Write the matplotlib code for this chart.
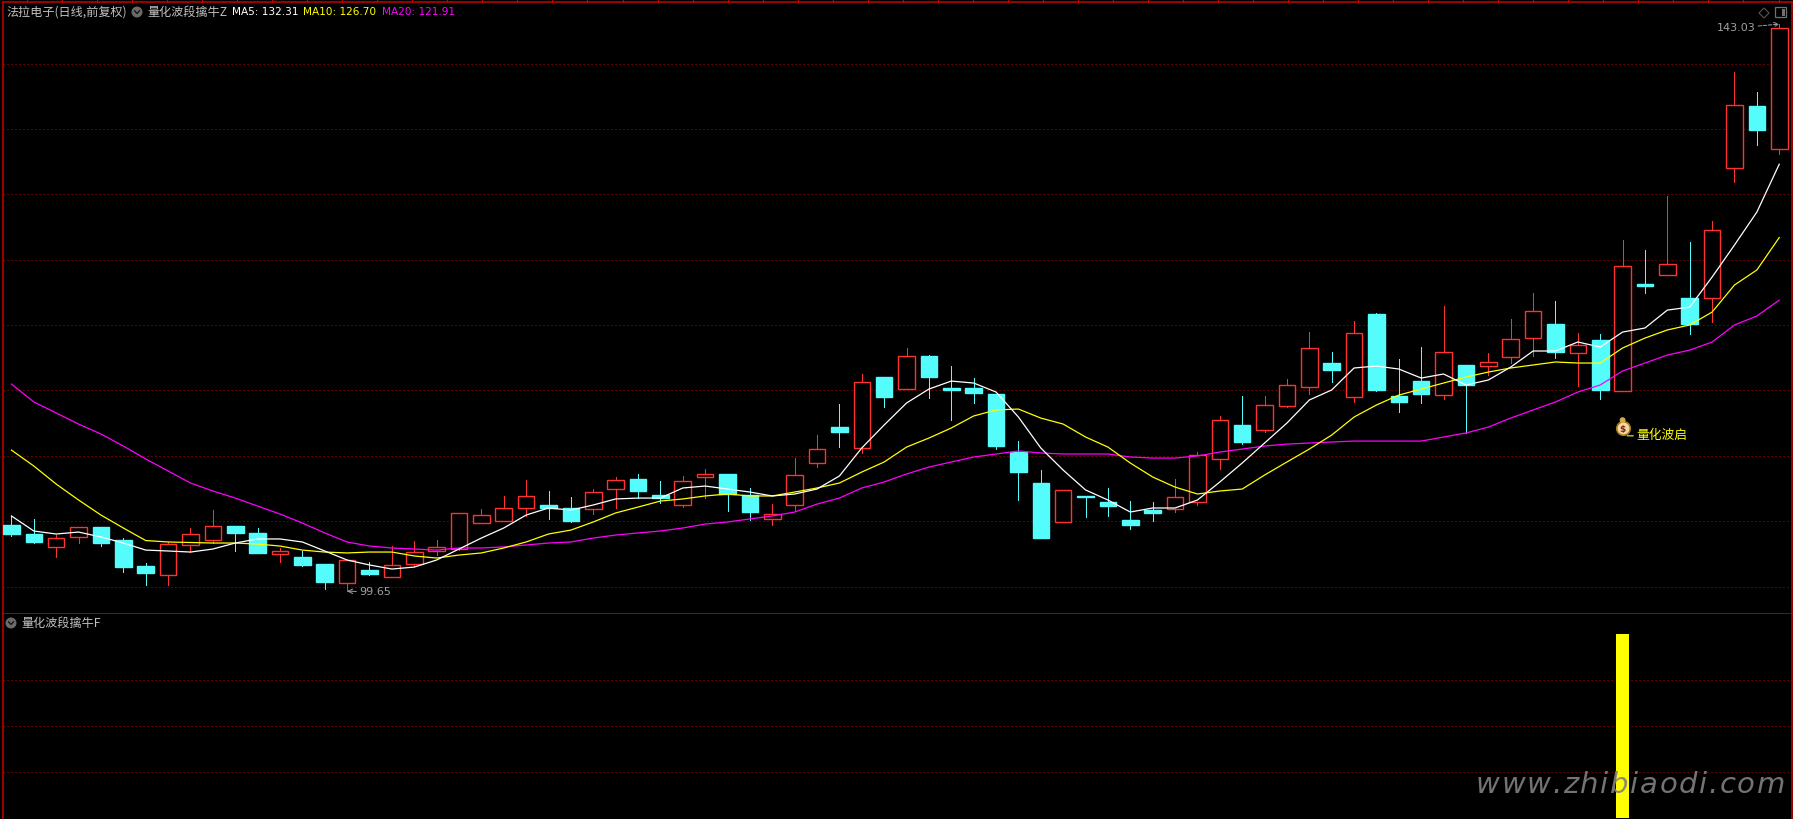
import matplotlib
matplotlib.use("Agg")
from matplotlib import pyplot as plt
from matplotlib.patches import Circle, FancyBboxPatch, Polygon, Rectangle

plt.rcParams['font.family'] = ['Noto Sans CJK SC', 'DejaVu Sans']

open_price = [104.71, 104.02, 103.05, 103.81, 104.55, 103.56, 101.57, 100.91, 103.20, 103.58,
              104.63, 104.10, 102.51, 102.26, 101.72, 100.29, 101.26, 100.75, 101.70, 102.70,
              102.87, 104.88, 104.99, 105.99, 106.24, 105.99, 105.95, 107.48, 108.23, 107.00,
              106.26, 108.40, 108.61, 107.00, 105.19, 106.26, 109.47, 112.20, 110.62, 116.03,
              115.13, 117.64, 115.19, 115.19, 114.73, 110.29, 107.92, 104.96, 106.93, 106.47,
              105.09, 105.85, 105.95, 106.49, 109.78, 112.36, 112.00, 113.83, 115.29, 117.10,
              114.52, 120.85, 114.58, 115.72, 114.65, 116.95, 116.89, 117.58, 119.04, 120.08,
              117.89, 118.86, 114.98, 123.14, 123.86, 122.07, 122.10, 132.04, 136.76, 133.49]
close_price = [104.02, 103.41, 103.69, 104.53, 103.33, 101.49, 101.04, 103.23, 104.00, 104.61,
               104.10, 102.57, 102.72, 101.65, 100.35, 102.01, 100.96, 101.62, 102.62, 103.00,
               105.60, 105.45, 105.99, 106.90, 105.99, 105.01, 107.21, 108.13, 107.31, 106.80,
               108.05, 108.59, 107.08, 105.70, 105.53, 108.51, 110.50, 111.82, 115.62, 114.50,
               117.61, 116.03, 115.03, 114.81, 110.75, 108.76, 103.71, 107.36, 106.85, 106.16,
               104.71, 105.63, 106.83, 110.04, 112.72, 111.06, 113.86, 115.39, 118.23, 116.56,
               119.37, 115.03, 114.12, 114.73, 117.92, 115.42, 117.15, 118.91, 121.06, 117.94,
               118.45, 115.03, 124.50, 122.99, 124.65, 120.08, 127.25, 136.81, 134.92, 142.71]
high_price = [105.40, 105.17, 103.94, 104.53, 104.55, 103.71, 101.80, 103.41, 104.48, 105.85,
              104.63, 104.48, 102.95, 102.72, 101.72, 102.01, 101.88, 103.10, 103.48, 103.56,
              105.60, 105.93, 106.90, 108.15, 107.31, 106.85, 107.46, 108.38, 108.61, 108.07,
              108.46, 108.99, 108.61, 107.54, 106.31, 109.83, 111.59, 113.96, 116.26, 116.03,
              118.25, 117.71, 116.87, 115.95, 114.73, 111.13, 108.91, 107.36, 106.93, 107.54,
              106.54, 106.47, 108.23, 110.29, 113.05, 114.58, 114.58, 115.88, 119.47, 117.94,
              120.31, 120.93, 117.41, 118.32, 121.46, 116.95, 117.87, 120.47, 122.46, 121.84,
              119.40, 119.32, 126.51, 125.74, 129.88, 126.36, 127.96, 139.36, 137.83, 143.03]
low_price = [103.87, 103.33, 102.26, 103.33, 103.10, 101.11, 100.12, 100.12, 102.64, 103.33,
             102.72, 102.57, 101.88, 101.57, 99.81, 99.65, 100.88, 100.75, 101.57, 102.41,
             102.79, 104.88, 104.99, 105.40, 105.17, 104.96, 105.55, 106.03, 106.77, 106.39,
             106.11, 106.80, 105.78, 105.09, 104.71, 105.85, 109.14, 110.67, 110.24, 113.73,
             115.13, 114.42, 112.74, 114.04, 110.52, 106.62, 103.71, 104.96, 105.32, 105.40,
             104.40, 105.01, 105.72, 106.24, 108.99, 110.90, 111.84, 113.76, 114.73, 115.65,
             114.12, 114.96, 113.35, 114.04, 114.35, 111.75, 116.18, 117.10, 117.64, 117.48,
             115.34, 114.35, 114.98, 122.46, 123.86, 119.32, 120.24, 130.97, 133.78, 133.11]

ma5 = [105.40, 104.25, 104.02, 104.17, 103.79, 103.33, 102.79, 102.72, 102.64, 102.87,
       103.33, 103.64, 103.64, 103.41, 102.72, 102.03, 101.65, 101.34, 101.49, 102.03,
       102.87, 103.71, 104.48, 105.47, 106.01, 105.85, 106.24, 106.70, 106.77, 106.77,
       107.54, 107.69, 107.46, 107.23, 106.93, 107.08, 107.46, 108.46, 110.60, 112.36,
       114.04, 115.11, 115.72, 115.57, 114.88, 112.97, 110.60, 108.91, 107.39, 106.62,
       105.70, 106.01, 106.01, 106.62, 108.00, 109.45, 110.98, 112.51, 114.27, 115.04,
       116.72, 116.87, 116.64, 115.95, 116.26, 115.42, 115.80, 116.79, 118.02, 118.02,
       118.71, 118.32, 119.47, 119.78, 121.15, 121.38, 123.68, 126.13, 128.65, 132.31]
ma10 = [110.44, 109.22, 107.84, 106.62, 105.47, 104.48, 103.52, 103.41, 103.37, 103.33,
        103.33, 103.25, 103.10, 102.79, 102.64, 102.57, 102.64, 102.64, 102.34, 102.18,
        102.41, 102.57, 102.95, 103.41, 104.02, 104.32, 104.94, 105.63, 106.08, 106.54,
        106.70, 106.93, 107.08, 106.93, 106.93, 107.23, 107.54, 107.92, 108.76, 109.53,
        110.67, 111.36, 112.13, 113.05, 113.51, 113.58, 112.89, 112.43, 111.44, 110.67,
        109.45, 108.38, 107.61, 107.08, 107.31, 107.46, 108.53, 109.53, 110.52, 111.59,
        112.97, 113.89, 114.65, 115.11, 115.57, 116.03, 116.41, 116.72, 116.95, 117.18,
        117.10, 117.10, 118.25, 119.01, 119.63, 120.01, 121.00, 123.07, 124.22, 126.70]
ma20 = [115.49, 114.12, 113.28, 112.43, 111.67, 110.75, 109.76, 108.84, 107.92, 107.31,
        106.77, 106.16, 105.55, 104.86, 104.10, 103.41, 103.10, 102.95, 102.87, 102.79,
        102.95, 102.95, 103.03, 103.18, 103.33, 103.41, 103.71, 103.94, 104.10, 104.25,
        104.48, 104.78, 104.94, 105.17, 105.40, 105.70, 106.31, 106.77, 107.54, 108.00,
        108.61, 109.14, 109.53, 109.91, 110.14, 110.37, 110.22, 110.14, 110.14, 110.14,
        109.91, 109.83, 109.83, 109.99, 110.29, 110.52, 110.75, 110.90, 110.98, 111.06,
        111.13, 111.13, 111.13, 111.13, 111.44, 111.75, 112.20, 112.89, 113.51, 114.12,
        114.88, 115.42, 116.49, 117.10, 117.71, 118.09, 118.71, 120.01, 120.70, 121.91]

grid_prices = [100, 105, 110, 115, 120, 125, 130, 135, 140]
signal_day = 72
signal_value = 1.0
signal_grid = [0.25, 0.5, 0.75]

W, H = 1793, 819
RED = "#ff3232"
CYAN = "#54fcfc"
BORDER = "#c80000"
GRID = "#c00000"
GRAY = "#c0c0c0"


def px(x, y):
    return x / W, 1 - y / H


fig = plt.figure(figsize=(W / 100, H / 100), dpi=100, facecolor="black")
ax = fig.add_axes([2.5 / W, 1 - 614 / H, 1789.5 / W, 612 / H], facecolor="black")
ax2 = fig.add_axes([2.5 / W, 0, 1789.5 / W, 205 / H], facecolor="black")

for a in (ax, ax2):
    a.set_xticks([])
    a.set_yticks([])
    a.set_xlim(-0.4, 79.57)
    for s in a.spines.values():
        s.set_color(BORDER)
        s.set_linewidth(1.1)
ax2.spines["bottom"].set_visible(False)
ax2.spines["top"].set_visible(False)

ax.set_ylim(97.9, 144.72)
ax2.set_ylim(-0.005, 1.109)

for g in grid_prices:
    ax.axhline(g, color=GRID, lw=0.72, ls=(0, (1, 3)), zorder=1)
for g in signal_grid:
    ax2.axhline(g, color=GRID, lw=0.72, ls=(0, (1, 3)), zorder=1)

for i in range(len(open_price)):
    up = close_price[i] > open_price[i]
    col = RED if up else CYAN
    bottom = min(open_price[i], close_price[i])
    height = abs(close_price[i] - open_price[i])
    ax.vlines(i, low_price[i], high_price[i], color=col, lw=0.72, zorder=2, antialiased=False)
    ax.bar(i, height, bottom=bottom, width=0.74,
           facecolor="black" if up else col, edgecolor=col, linewidth=1.0, zorder=3)

days = list(range(len(ma5)))
ax.plot(days, ma20, color="#ff00ff", lw=0.9, zorder=4)
ax.plot(days, ma10, color="#ffff00", lw=0.9, zorder=5)
ax.plot(days, ma5, color="white", lw=0.9, zorder=6)

# the grid stops a little before the signal bar
ax2.bar(signal_day, signal_value, width=0.74, color="black", zorder=2)
ax2.bar(signal_day, signal_value, width=0.58, color="#ffff00", zorder=3)

# high and low labels
ax.annotate("99.65", xy=(15, min(low_price)), xytext=(12, -1), textcoords="offset pixels",
            color="#a0a0a0", fontsize=8, va="center", ha="left", family="DejaVu Sans",
            arrowprops=dict(arrowstyle="->", color="#a0a0a0", lw=0.7, shrinkA=0, shrinkB=0))
ax.annotate("143.03", xy=(79, max(high_price)), xytext=(-24, -4), textcoords="offset pixels",
            color="#a0a0a0", fontsize=8, va="center", ha="right", family="DejaVu Sans",
            arrowprops=dict(arrowstyle="->", color="#a0a0a0", lw=0.7, ls="--", shrinkA=0, shrinkB=0))

# signal label with the money bag
bag_x = signal_day
bag_y = 112.13
ax.scatter([bag_x], [bag_y], s=95, color="#f3dc9a", edgecolor="#a87820", linewidth=1.2, zorder=7)
ax.scatter([bag_x], [bag_y + 0.6], s=18, color="#d8a850", edgecolor="none", zorder=7)
ax.text(bag_x, bag_y - 0.1, "$", color="#802020", fontsize=6.5, ha="center", va="center",
        family="DejaVu Sans", weight="bold", zorder=8)
ax.annotate("量化波启", xy=(bag_x + 0.2, bag_y - 0.6), xytext=(9, 0), textcoords="offset pixels",
            color="#ffff00", fontsize=9.2, va="center", ha="left",
            arrowprops=dict(arrowstyle="-", color="#ffff00", lw=0.8, shrinkA=0, shrinkB=0))

# header text
tx, ty = px(6, 12)
fig.text(tx, ty, "法拉电子(日线,前复权)", color=GRAY, fontsize=8.7, va="center")
tx, ty = px(147, 12)
fig.text(tx, ty, "量化波段擒牛Z", color=GRAY, fontsize=8.7, va="center")
tx, ty = px(231.5, 12)
fig.text(tx, ty, "MA5: 132.31", color="white", fontsize=7.6, va="center", family="DejaVu Sans")
tx, ty = px(303, 12)
fig.text(tx, ty, "MA10: 126.70", color="#ffff00", fontsize=7.6, va="center", family="DejaVu Sans")
tx, ty = px(382.5, 12)
fig.text(tx, ty, "MA20: 121.91", color="#ff00ff", fontsize=7.6, va="center", family="DejaVu Sans")
tx, ty = px(21, 623)
fig.text(tx, ty, "量化波段擒牛F", color=GRAY, fontsize=8.7, va="center")


def chevron_icon(x, y):
    # round gray button with a small chevron, in pixels
    t = fig.dpi_scale_trans
    xf, yf = x / 100, (H - y) / 100
    fig.add_artist(Circle((xf, yf), 0.055, transform=t, color="#6a6a6a", lw=0))
    fig.add_artist(plt.Line2D([xf - 0.025, xf, xf + 0.025], [yf + 0.012, yf - 0.015, yf + 0.012],
                              transform=t, color="#101010", lw=0.9))


chevron_icon(137, 12)
chevron_icon(11, 623)

# window buttons, top right
t = fig.dpi_scale_trans
fig.add_artist(Polygon([(17.59, 8.06), (17.64, 8.01), (17.69, 8.06), (17.64, 8.11)], closed=True,
                       transform=t, fill=False, edgecolor="#555555", lw=0.8))
fig.add_artist(FancyBboxPatch((17.76, 8.02), 0.1, 0.09, boxstyle="round,pad=0.005", transform=t,
                              fill=False, edgecolor="#707070", lw=0.9))
fig.add_artist(Rectangle((17.82, 8.03), 0.03, 0.07, transform=t, color="#707070", lw=0))

# ticks along the top border
for n in range(51):
    x0, y0 = px(27 + 35.03 * n, 0)
    x1, y1 = px(27 + 35.03 * n, 2)
    fig.add_artist(plt.Line2D([x0, x1], [y0, y1], color=BORDER, lw=0.8))

# site watermark, spaced out letter by letter
renderer = fig.canvas.get_renderer()
wx = 1476
for ch in "www.zhibiaodi.com":
    tx, ty = px(wx, 793)
    letter = fig.text(tx, ty, ch, color="#808080", alpha=0.9, fontsize=21, style="italic",
                      family="DejaVu Sans", va="baseline", zorder=10)
    wx += letter.get_window_extent(renderer).width + 1.6

plt.savefig("out.png", dpi=100, facecolor="black")
